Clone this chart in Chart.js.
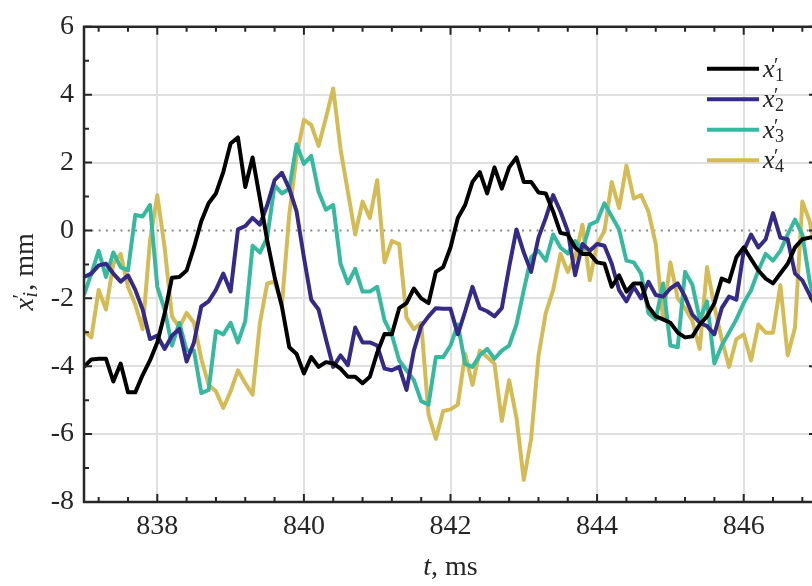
<!DOCTYPE html>
<html>
<head>
<meta charset="utf-8">
<script src="https://cdn.jsdelivr.net/npm/chart.js@4.4.0/dist/chart.umd.min.js"></script>
<style>
html, body { margin: 0; padding: 0; overflow: hidden; background: #fff; }
canvas { display: block; }
</style>
</head>
<body>
<canvas id="fluct" width="830" height="586"></canvas>
<script>
// time stamps, ms
const time = [
  837.0, 837.1, 837.2, 837.3, 837.4, 837.5, 837.6, 837.7, 837.8, 837.9,
  838.0, 838.1, 838.2, 838.3, 838.4, 838.5, 838.6, 838.7, 838.8, 838.9,
  839.0, 839.1, 839.2, 839.3, 839.4, 839.5, 839.6, 839.7, 839.8, 839.9,
  840.0, 840.1, 840.2, 840.3, 840.4, 840.5, 840.6, 840.7, 840.8, 840.9,
  841.0, 841.1, 841.2, 841.3, 841.4, 841.5, 841.6, 841.7, 841.8, 841.9,
  842.0, 842.1, 842.2, 842.3, 842.4, 842.5, 842.6, 842.7, 842.8, 842.9,
  843.0, 843.1, 843.2, 843.3, 843.4, 843.5, 843.6, 843.7, 843.8, 843.9,
  844.0, 844.1, 844.2, 844.3, 844.4, 844.5, 844.6, 844.7, 844.8, 844.9,
  845.0, 845.1, 845.2, 845.3, 845.4, 845.5, 845.6, 845.7, 845.8, 845.9,
  846.0, 846.1, 846.2, 846.3, 846.4, 846.5, 846.6, 846.7, 846.8, 846.9,
  847.0
];

// displacement fluctuations, mm
const x1 = [
  -4.02, -3.80, -3.78, -3.78, -4.45, -3.92, -4.77, -4.77, -4.26, -3.83,
  -3.30, -2.45, -1.39, -1.37, -1.18, -0.50, 0.27, 0.80, 1.09, 1.72,
  2.56, 2.74, 1.28, 2.15, 0.94, -0.30, -1.37, -2.24, -3.44, -3.64,
  -4.21, -3.73, -4.02, -3.88, -3.92, -4.07, -4.31, -4.31, -4.50, -4.31,
  -3.60, -3.05, -3.06, -2.29, -2.14, -1.71, -2.00, -2.14, -1.22, -1.08,
  -0.50, 0.37, 0.75, 1.43, 1.72, 1.09, 1.86, 1.23, 1.86, 2.15,
  1.43, 1.43, 1.12, 1.09, 0.56, -0.07, -0.12, -0.50, -0.69, -0.69,
  -0.94, -0.98, -1.66, -1.32, -1.80, -1.56, -1.56, -2.24, -2.53, -2.62,
  -2.72, -3.01, -3.15, -3.12, -2.77, -2.53, -2.14, -1.42, -1.51, -0.79,
  -0.50, -0.84, -1.18, -1.42, -1.56, -1.27, -0.98, -0.50, -0.26, -0.21,
  -0.20
];
const x2 = [
  -1.37, -1.27, -1.03, -0.98, -1.27, -1.51, -1.32, -1.75, -2.33, -3.20,
  -3.10, -3.49, -3.10, -2.90, -3.86, -3.30, -2.24, -2.09, -1.75, -1.27,
  -1.80, 0.03, 0.13, 0.37, 0.17, 0.75, 1.48, 1.70, 1.23, 0.56,
  -0.79, -2.04, -2.33, -3.20, -4.02, -3.68, -3.97, -2.86, -3.30, -3.30,
  -3.39, -4.07, -4.12, -4.02, -4.70, -3.54, -2.82, -2.53, -2.29, -2.31,
  -2.31, -3.06, -2.38, -1.66, -2.29, -2.38, -2.53, -2.29, -1.08, 0.03,
  -0.65, -1.22, -0.21, 0.37, 1.04, 0.56, -0.02, -1.32, -0.40, -0.60,
  -0.40, -0.45, -0.98, -1.76, -2.09, -1.66, -2.00, -1.51, -1.90, -1.95,
  -1.71, -1.56, -1.95, -2.48, -2.72, -2.82, -3.06, -2.29, -1.95, -2.04,
  -0.60, -0.12, -0.50, -0.26, 0.51, -0.21, -0.26, -1.27, -1.47, -1.90,
  -2.30
];
const x3 = [
  -1.90, -1.27, -0.60, -1.37, -0.65, -1.08, -1.18, 0.46, 0.41, 0.75,
  -1.66, -2.33, -3.39, -2.72, -3.54, -3.54, -4.79, -4.70, -2.96, -3.06,
  -2.72, -3.30, -2.67, -0.45, -0.65, -0.21, 1.33, 1.09, 1.23, 2.54,
  1.96, 2.20, 1.14, 0.61, 0.75, -0.98, -1.56, -1.13, -1.80, -1.80,
  -1.66, -2.65, -3.08, -3.83, -4.12, -4.41, -5.03, -5.13, -3.73, -3.73,
  -3.39, -2.77, -3.93, -4.02, -3.68, -3.49, -3.78, -3.54, -3.39, -2.77,
  -1.76, -0.79, -0.60, -0.89, -0.12, -0.50, -0.68, -0.31, -0.60, 0.17,
  0.27, 0.80, 0.41, 0.03, -0.89, -0.94, -1.27, -2.43, -2.62, -1.56,
  -3.39, -3.44, -1.22, -1.60, -2.62, -2.09, -3.92, -3.39, -3.01, -2.62,
  -2.14, -1.76, -1.18, -0.69, -0.89, -0.60, -0.12, 0.32, -0.12, -1.50,
  -2.40
];
const x4 = [
  -2.96, -3.15, -1.75, -2.33, -0.98, -0.69, -1.66, -2.19, -2.91, -0.31,
  1.04, -0.50, -2.53, -2.86, -2.43, -2.72, -3.78, -4.55, -4.74, -5.23,
  -4.74, -4.12, -4.50, -4.84, -2.72, -1.56, -1.51, -2.19, 0.46, 2.20,
  3.26, 3.11, 2.49, 3.31, 4.18, 2.39, 1.14, -0.12, 0.85, 0.37,
  1.48, -0.94, -0.31, -0.40, -2.57, -2.91, -2.72, -5.42, -6.14, -5.32,
  -5.27, -5.13, -3.64, -4.55, -3.54, -3.73, -3.93, -5.61, -4.41, -5.52,
  -7.35, -6.14, -3.70, -2.43, -1.76, -0.69, -1.22, -0.79, 0.17, -1.47,
  -0.40, -0.02, 1.43, 0.66, 1.91, 0.94, 1.04, 0.56, -0.40, -2.62,
  -0.94, -2.00, -2.29, -2.67, -3.49, -1.08, -2.24, -3.20, -4.02, -3.20,
  -3.06, -3.83, -2.77, -3.01, -3.01, -1.61, -3.68, -2.86, 0.85, 0.27,
  -0.80
];

const xTickValues = [838, 840, 842, 844, 846];
const seriesSubs = ['1', '2', '3', '4'];
const seriesColors = ['#000000', '#352a87', '#36b99f', '#d5bb55'];

const SERIF = "'Liberation Serif', 'DejaVu Serif', serif";
const INK = '#262626';

// italic symbol with prime and subscript, returns end x
function drawSym(ctx, x, y, base, sub, size) {
  ctx.font = `italic ${size}px ${SERIF}`;
  ctx.fillText(base, x, y);
  const w = ctx.measureText(base).width;
  ctx.font = `${Math.round(size * 0.75)}px ${SERIF}`;
  ctx.fillText('\u2032', x + w - size * 0.02, y - size * 0.2);
  ctx.font = `${sub === 'i' ? 'italic ' : ''}${Math.round(size * 0.7)}px ${SERIF}`;
  ctx.fillText(sub, x + w + size * 0.02, y + size * 0.16);
  return x + w + size * 0.02 + ctx.measureText(sub).width;
}

const frame = {
  id: 'frame',
  beforeDatasetsDraw(chart) {
    const { ctx, chartArea: a, scales: { y } } = chart;
    const y0 = y.getPixelForValue(0);
    ctx.save();
    ctx.strokeStyle = '#8a8a8a';
    ctx.lineWidth = 2;
    ctx.setLineDash([2, 5.3]);
    ctx.beginPath();
    ctx.moveTo(a.left, y0);
    ctx.lineTo(a.right, y0);
    ctx.stroke();
    ctx.restore();
  },
  afterDatasetsDraw(chart) {
    const { ctx, chartArea: a, scales: { x, y } } = chart;
    ctx.save();
    ctx.strokeStyle = INK;
    ctx.lineWidth = 2;
    ctx.beginPath();
    // x ticks every 0.4 ms, major every 2 ms
    for (let k = Math.ceil(x.min / 0.4 - 1e-6); k * 0.4 <= x.max + 1e-6; k++) {
      const v = k * 0.4;
      const px = x.getPixelForValue(v);
      const len = Math.abs(v / 2 - Math.round(v / 2)) < 1e-6 ? 8 : 5;
      ctx.moveTo(px, a.bottom); ctx.lineTo(px, a.bottom - len);
      ctx.moveTo(px, a.top); ctx.lineTo(px, a.top + len);
    }
    // y ticks every 1, major every 2
    for (let v = y.min; v <= y.max; v++) {
      const py = y.getPixelForValue(v);
      const len = v % 2 === 0 ? 8 : 5;
      ctx.moveTo(a.left, py); ctx.lineTo(a.left + len, py);
      ctx.moveTo(a.right, py); ctx.lineTo(a.right - len, py);
    }
    ctx.stroke();
    ctx.lineWidth = 2.5;
    ctx.strokeRect(a.left, a.top, a.right - a.left, a.bottom - a.top);

    // legend inside the axes
    ctx.fillStyle = INK;
    ctx.textBaseline = 'alphabetic';
    ctx.textAlign = 'left';
    chart.data.datasets.forEach((ds, k) => {
      const ly = a.top + 42 + k * 30.5;
      ctx.strokeStyle = ds.borderColor;
      ctx.lineWidth = 4;
      ctx.beginPath();
      ctx.moveTo(a.right - 110, ly);
      ctx.lineTo(a.right - 58, ly);
      ctx.stroke();
      drawSym(ctx, a.right - 54, ly + 8, 'x', seriesSubs[k], 26);
    });

    // axis titles
    const xc = (a.left + a.right) / 2;
    ctx.font = `italic 28px ${SERIF}`;
    const tW = ctx.measureText('t').width;
    ctx.font = `28px ${SERIF}`;
    const restW = ctx.measureText(', ms').width;
    const sx = xc - (tW + restW) / 2;
    ctx.font = `italic 28px ${SERIF}`;
    ctx.fillText('t', sx, 575);
    ctx.font = `28px ${SERIF}`;
    ctx.fillText(', ms', sx + tW, 575);

    ctx.translate(33, (a.top + a.bottom) / 2);
    ctx.rotate(-Math.PI / 2);
    const end = drawSym(ctx, -46, 0, 'x', 'i', 28);
    ctx.font = `28px ${SERIF}`;
    ctx.fillText(', mm', end + 1, 0);
    ctx.restore();
  }
};

new Chart(document.getElementById('fluct').getContext('2d'), {
  type: 'line',
  data: {
    datasets: [x1, x2, x3, x4].map((vals, k) => ({
      label: 'x\u2032' + seriesSubs[k],
      data: time.map((t, i) => ({ x: t, y: vals[i] })),
      borderColor: seriesColors[k],
      borderWidth: 4,
      borderJoinStyle: 'round',
      pointRadius: 0,
      tension: 0,
      fill: false
    }))
  },
  options: {
    responsive: false,
    animation: false,
    events: [],
    layout: { padding: { top: 18, right: 13, left: 0, bottom: 0 } },
    plugins: { legend: { display: false }, tooltip: { enabled: false } },
    scales: {
      x: {
        type: 'linear',
        min: 837,
        max: 847,
        afterBuildTicks: s => { s.ticks = xTickValues.map(v => ({ value: v })); },
        afterFit: s => { s.height = 84; },
        ticks: { padding: 8, color: INK, font: { family: SERIF, size: 28 } },
        grid: { color: '#e0e0e0', lineWidth: 2, drawTicks: false },
        border: { display: false }
      },
      y: {
        min: -8,
        max: 6,
        afterFit: s => { s.width = 84; },
        ticks: { stepSize: 2, padding: 10, color: INK, font: { family: SERIF, size: 28 } },
        grid: {
          color: c => (c.tick && c.tick.value === 0 ? 'rgba(0,0,0,0)' : '#e0e0e0'),
          lineWidth: 2,
          drawTicks: false
        },
        border: { display: false }
      }
    }
  },
  plugins: [frame]
});
</script>
</body>
</html>
